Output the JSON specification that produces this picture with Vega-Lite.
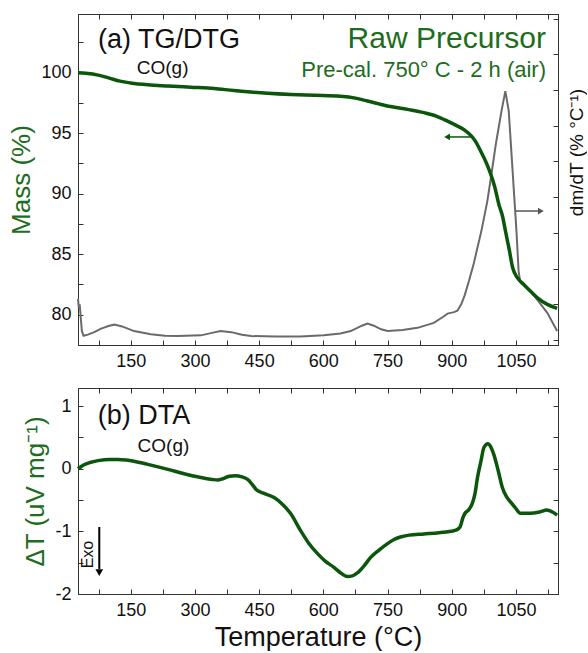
{
  "$schema": "https://vega.github.io/schema/vega-lite/v6.json",
  "padding": {"left": 8, "top": 13, "right": 0, "bottom": 0},
  "background": "white",
  "config": {
    "font": "Liberation Sans",
    "view": {"stroke": "#333", "strokeWidth": 1},
    "axis": {
      "labelFont": "Liberation Sans", "labelFontSize": 18, "labelColor": "#111",
      "titleFont": "Liberation Sans", "titleFontWeight": "normal",
      "grid": false, "domainColor": "#333", "tickColor": "#333",
      "tickSize": -5, "labelPadding": 12, "domainWidth": 1, "tickWidth": 1
    }
  },
  "datasets": {
    "tg": [
      {"T":27,"m":100.0},{"T":45,"m":99.95},{"T":74,"m":99.8},{"T":100,"m":99.55},{"T":125,"m":99.3},{"T":150,"m":99.15},{"T":190,"m":99.0},{"T":237,"m":98.9},{"T":290,"m":98.8},{"T":345,"m":98.7},{"T":391,"m":98.52},{"T":430,"m":98.4},{"T":470,"m":98.3},{"T":524,"m":98.2},{"T":580,"m":98.13},{"T":640,"m":98.05},{"T":675,"m":97.9},{"T":703,"m":97.66},{"T":730,"m":97.42},{"T":757,"m":97.2},{"T":800,"m":96.95},{"T":835,"m":96.7},{"T":865,"m":96.4},{"T":890,"m":96.0},{"T":910,"m":95.65},{"T":930,"m":95.25},{"T":945,"m":94.8},{"T":955,"m":94.35},{"T":967,"m":93.55},{"T":980,"m":92.6},{"T":990,"m":91.7},{"T":1000,"m":90.6},{"T":1010,"m":89.1},{"T":1018,"m":88.2},{"T":1026,"m":86.8},{"T":1034,"m":85.4},{"T":1042,"m":83.9},{"T":1053,"m":83.06},{"T":1068,"m":82.5},{"T":1085,"m":81.9},{"T":1100,"m":81.4},{"T":1123,"m":80.86},{"T":1146,"m":80.53}
    ],
    "dtg": [
      {"T":27,"d":1.15},{"T":29,"d":0.9},{"T":31,"d":1.0},{"T":33,"d":0.7},{"T":36,"d":0.25},{"T":40,"d":0.12},{"T":50,"d":0.15},{"T":65,"d":0.22},{"T":81,"d":0.32},{"T":100,"d":0.4},{"T":112,"d":0.43},{"T":130,"d":0.38},{"T":158,"d":0.25},{"T":197,"d":0.16},{"T":230,"d":0.12},{"T":260,"d":0.11},{"T":314,"d":0.13},{"T":340,"d":0.2},{"T":360,"d":0.25},{"T":385,"d":0.22},{"T":410,"d":0.15},{"T":431,"d":0.11},{"T":490,"d":0.1},{"T":547,"d":0.1},{"T":601,"d":0.13},{"T":640,"d":0.18},{"T":664,"d":0.25},{"T":690,"d":0.4},{"T":703,"d":0.46},{"T":718,"d":0.4},{"T":735,"d":0.3},{"T":750,"d":0.25},{"T":785,"d":0.28},{"T":820,"d":0.34},{"T":858,"d":0.48},{"T":880,"d":0.65},{"T":890,"d":0.74},{"T":905,"d":0.78},{"T":913,"d":0.82},{"T":922,"d":1.0},{"T":930,"d":1.25},{"T":940,"d":1.65},{"T":951,"d":2.13},{"T":969,"d":3.05},{"T":983,"d":3.89},{"T":992,"d":4.6},{"T":1003,"d":5.5},{"T":1016,"d":6.41},{"T":1025,"d":6.97},{"T":1033,"d":6.41},{"T":1042,"d":4.73},{"T":1051,"d":3.05},{"T":1056,"d":1.93},{"T":1060,"d":1.62},{"T":1072,"d":1.5},{"T":1085,"d":1.35},{"T":1099,"d":1.14},{"T":1123,"d":0.76},{"T":1146,"d":0.25}
    ],
    "dta": [
      {"T":27,"v":0.0},{"T":40,"v":0.06},{"T":55,"v":0.1},{"T":74,"v":0.13},{"T":100,"v":0.15},{"T":120,"v":0.15},{"T":140,"v":0.14},{"T":158,"v":0.12},{"T":190,"v":0.07},{"T":237,"v":-0.01},{"T":275,"v":-0.08},{"T":314,"v":-0.14},{"T":340,"v":-0.17},{"T":353,"v":-0.18},{"T":365,"v":-0.16},{"T":380,"v":-0.12},{"T":395,"v":-0.11},{"T":410,"v":-0.13},{"T":423,"v":-0.17},{"T":435,"v":-0.26},{"T":443,"v":-0.33},{"T":460,"v":-0.39},{"T":485,"v":-0.46},{"T":505,"v":-0.57},{"T":524,"v":-0.72},{"T":547,"v":-0.99},{"T":565,"v":-1.18},{"T":587,"v":-1.36},{"T":605,"v":-1.48},{"T":624,"v":-1.57},{"T":640,"v":-1.66},{"T":656,"v":-1.72},{"T":668,"v":-1.71},{"T":680,"v":-1.66},{"T":695,"v":-1.55},{"T":710,"v":-1.42},{"T":730,"v":-1.3},{"T":749,"v":-1.2},{"T":765,"v":-1.13},{"T":780,"v":-1.09},{"T":800,"v":-1.06},{"T":835,"v":-1.04},{"T":870,"v":-1.02},{"T":905,"v":-0.99},{"T":915,"v":-0.96},{"T":920,"v":-0.92},{"T":925,"v":-0.8},{"T":930,"v":-0.72},{"T":940,"v":-0.65},{"T":948,"v":-0.55},{"T":954,"v":-0.4},{"T":960,"v":-0.14},{"T":968,"v":0.12},{"T":975,"v":0.34},{"T":984,"v":0.4},{"T":991,"v":0.35},{"T":998,"v":0.23},{"T":1008,"v":-0.02},{"T":1018,"v":-0.3},{"T":1028,"v":-0.45},{"T":1037,"v":-0.53},{"T":1048,"v":-0.62},{"T":1060,"v":-0.71},{"T":1083,"v":-0.71},{"T":1105,"v":-0.69},{"T":1122,"v":-0.66},{"T":1135,"v":-0.69},{"T":1146,"v":-0.74}
    ]
  },
  "spacing": 16,
  "vconcat": [
    {
      "width": 480, "height": 331,
      "layer": [
        {
          "data": {"name": "dtg"},
          "mark": {"type": "line", "color": "#6a6a6a", "strokeWidth": 2},
          "encoding": {
            "x": {"field": "T", "type": "quantitative", "scale": {"domain": [27, 1148], "nice": false, "zero": false},
                  "axis": {"orient": "top", "values": [75,150,225,300,375,450,525,600,675,750,825,900,975,1050,1125], "labels": false, "title": null}},
            "y": {"field": "d", "type": "quantitative", "scale": {"domain": [-0.14, 9.13], "nice": false, "zero": false},
                  "axis": {"orient": "right", "values": [0,1,2,3,4,5,6,7,8,9], "labels": false, "title": "dm/dT (% °C⁻¹)", "titleFontSize": 19, "titleColor": "#111", "titleAngle": 270, "titlePadding": 28, "titleY": 138}}
          }
        },
        {
          "encoding": {
            "x": {"field": "T", "type": "quantitative", "scale": {"domain": [27, 1148], "nice": false, "zero": false},
                  "axis": {"orient": "bottom", "values": [75,150,225,300,375,450,525,600,675,750,825,900,975,1050,1125], "labelExpr": "datum.value % 150 === 0 ? '' + datum.value : ''", "title": null}},
            "y": {"field": "m", "type": "quantitative", "scale": {"domain": [77.5, 104.85], "nice": false, "zero": false},
                  "axis": {"orient": "left", "values": [77.5,80,82.5,85,87.5,90,92.5,95,97.5,100,102.5], "labelExpr": "datum.value % 5 === 0 ? '' + datum.value : ''", "title": "Mass (%)", "titleFontSize": 26, "titleColor": "#1d6d1d", "titlePadding": 6}}
          },
          "layer": [
            {"data": {"name": "tg"}, "mark": {"type": "line", "color": "#0c560c", "strokeWidth": 3.5, "interpolate": "monotone"}},
            {"data": {"values": [{"T": 948, "T2": 893, "m": 94.69}]}, "mark": {"type": "rule", "color": "#0c560c", "strokeWidth": 1.5}, "encoding": {"x2": {"field": "T2"}}},
            {"data": {"values": [{"T": 889, "m": 94.69}]}, "mark": {"type": "point", "shape": "triangle-left", "filled": true, "color": "#0c560c", "size": 45, "opacity": 1}},
            {"data": {"values": [{"T": 1049, "T2": 1104, "m": 88.57}]}, "mark": {"type": "rule", "color": "#555", "strokeWidth": 1.5}, "encoding": {"x2": {"field": "T2"}}},
            {"data": {"values": [{"T": 1108, "m": 88.57}]}, "mark": {"type": "point", "shape": "triangle-right", "filled": true, "color": "#555", "size": 45, "opacity": 1}},
            {"data": {"values": [{"T": 73.7, "m": 102.04, "label": "(a) TG/DTG"}]}, "mark": {"type": "text", "align": "left", "baseline": "alphabetic", "fontSize": 27, "color": "#111"}, "encoding": {"text": {"field": "label"}}},
            {"data": {"values": [{"T": 224.6, "m": 99.87, "label": "CO(g)"}]}, "mark": {"type": "text", "align": "center", "baseline": "alphabetic", "fontSize": 19, "color": "#111"}, "encoding": {"text": {"field": "label"}}},
            {"data": {"values": [{"T": 1120, "m": 102.07, "label": "Raw Precursor"}]}, "mark": {"type": "text", "align": "right", "baseline": "alphabetic", "fontSize": 30, "color": "#1d6d1d"}, "encoding": {"text": {"field": "label"}}},
            {"data": {"values": [{"T": 1120, "m": 99.64, "label": "Pre-cal. 750° C - 2 h (air)"}]}, "mark": {"type": "text", "align": "right", "baseline": "alphabetic", "fontSize": 22, "color": "#1d6d1d"}, "encoding": {"text": {"field": "label"}}}
          ]
        }
      ],
      "resolve": {"scale": {"y": "independent"}, "axis": {"x": "independent", "y": "independent"}}
    },
    {
      "width": 480, "height": 206,
      "layer": [
        {
          "data": {"name": "dta"},
          "mark": {"type": "line", "color": "#0c560c", "strokeWidth": 3.5, "interpolate": "monotone"},
          "encoding": {
            "x": {"field": "T", "type": "quantitative", "scale": {"domain": [27, 1148], "nice": false, "zero": false},
                  "axis": {"orient": "bottom", "values": [75,150,225,300,375,450,525,600,675,750,825,900,975,1050,1125], "labelExpr": "datum.value % 150 === 0 ? '' + datum.value : ''", "title": "Temperature (°C)", "titleFontSize": 27, "titleColor": "#111", "titlePadding": 5}},
            "y": {"field": "v", "type": "quantitative", "scale": {"domain": [-2, 1.29], "nice": false, "zero": false},
                  "axis": {"orient": "left", "values": [-2,-1.5,-1,-0.5,0,0.5,1], "labelExpr": "datum.value % 1 === 0 ? '' + datum.value : ''", "title": "ΔT (uV mg⁻¹)", "titleFontSize": 26, "titleColor": "#1d6d1d", "titlePadding": 6}}
          }
        },
        {
          "encoding": {
            "x": {"field": "T", "type": "quantitative", "scale": {"domain": [27, 1148], "nice": false, "zero": false},
                  "axis": {"orient": "top", "values": [75,150,225,300,375,450,525,600,675,750,825,900,975,1050,1125], "labels": false, "title": null}},
            "y": {"field": "v", "type": "quantitative", "scale": {"domain": [-2, 1.29], "nice": false, "zero": false},
                  "axis": {"orient": "right", "values": [-2,-1.5,-1,-0.5,0,0.5,1], "labels": false, "title": null}}
          },
          "layer": [
            {"data": {"values": [{"T": 73, "v": 0.72, "label": "(b) DTA"}]}, "mark": {"type": "text", "align": "left", "baseline": "alphabetic", "fontSize": 27, "color": "#111"}, "encoding": {"text": {"field": "label"}}},
            {"data": {"values": [{"T": 226.5, "v": 0.27, "label": "CO(g)"}]}, "mark": {"type": "text", "align": "center", "baseline": "alphabetic", "fontSize": 19, "color": "#111"}, "encoding": {"text": {"field": "label"}}},
            {"data": {"values": [{"T": 50.4, "v": -1.37, "label": "Exo"}]}, "mark": {"type": "text", "align": "center", "baseline": "middle", "angle": 270, "fontSize": 16, "color": "#111"}, "encoding": {"text": {"field": "label"}}},
            {"data": {"values": [{"T": 76.7, "v": -0.93, "v2": -1.6}]}, "mark": {"type": "rule", "color": "#000", "strokeWidth": 2}, "encoding": {"y2": {"field": "v2"}}},
            {"data": {"values": [{"T": 76.7, "v": -1.66}]}, "mark": {"type": "point", "shape": "triangle-down", "filled": true, "color": "#000", "size": 60, "opacity": 1}}
          ]
        }
      ],
      "resolve": {"axis": {"x": "independent", "y": "independent"}}
    }
  ]
}
